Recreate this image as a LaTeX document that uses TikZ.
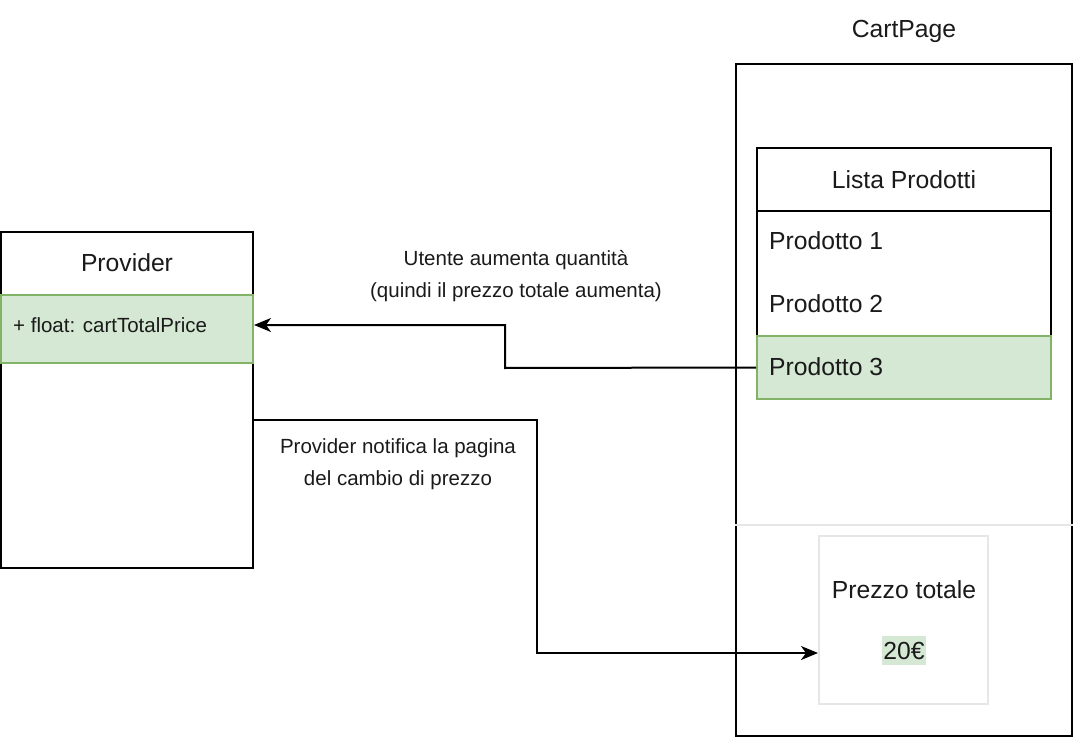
\documentclass[tikz,border=0pt]{standalone}
\usepackage{fontspec}
\setmainfont{Liberation Sans}
\usetikzlibrary{arrows.meta}
\definecolor{gfill}{HTML}{D5E8D4}
\definecolor{gdraw}{HTML}{82B366}
\definecolor{lgray}{HTML}{E6E6E6}
\definecolor{tcol}{HTML}{1A1A1A}
\tikzset{
  box/.style={draw=black, line width=2pt, inner sep=0pt, fill=white},
  rowbox/.style={inner sep=0pt},
  greenrow/.style={draw=gdraw, fill=gfill, line width=2pt, inner sep=0pt},
  bigtxt/.style={font=\fontsize{24.7}{29}\selectfont, text=tcol, inner sep=0pt},
  smalltxt/.style={font=\fontsize{20.5}{32}\selectfont, text=tcol, inner sep=0pt, align=center},
  arr/.style={line width=2pt, -{Stealth[length=17pt,width=14pt,inset=5pt]}},
}
\begin{document}
\begin{tikzpicture}[x=1pt,y=-1pt]
\useasboundingbox (0,0) rectangle (1076,738);
% Provider
\node[box, minimum width=252pt, minimum height=336pt] (prov) at (127,400) {};
\node[bigtxt] (provt) at (127,263) {Provider};
\node[greenrow, minimum width=252pt, minimum height=68pt] (attr) at (127,329) {};
\node[smalltxt, anchor=west] (attrt) at (13,325) {+ float: cartTotalPrice};
% CartPage
\node[bigtxt] (cartt) at (904,31) {CartPage};
\node[box, minimum width=336pt, minimum height=672pt] (cart) at (904,400) {};
\draw[lgray, line width=2pt] (cart.west |- 0,525) -- (cart.east |- 0,525);
% Lista Prodotti
\node[box, minimum width=294pt, minimum height=251pt] (lista) at (904,273.5) {};
\draw[line width=2pt] (lista.west |- 0,211) -- (lista.east |- 0,211);
\node[bigtxt] (listat) at (904,180) {Lista Prodotti};
\node[rowbox, minimum width=294pt, minimum height=62pt] (p1) at (904,242) {};
\node[bigtxt, anchor=west] (p1t) at (769,241) {Prodotto 1};
\node[rowbox, minimum width=294pt, minimum height=63pt] (p2) at (904,304.5) {};
\node[bigtxt, anchor=west] (p2t) at (769,304) {Prodotto 2};
\node[greenrow, minimum width=294pt, minimum height=63pt] (p3) at (904,367.5) {};
\node[bigtxt, anchor=west] (p3t) at (769,367) {Prodotto 3};
% Prezzo totale
\node[draw=lgray, line width=2pt, fill=white, minimum width=169pt, minimum height=168pt, inner sep=0pt] (price) at (903.5,620) {};
\node[bigtxt] (pricet) at (904,590) {Prezzo totale};
\node[bigtxt, fill=gfill, minimum width=44pt, minimum height=29pt] (val) at (904,650.5) {20€};
% connectors
\coordinate (b1) at (505,368);
\draw[arr] (p3.west) -- (b1) |- ([yshift=4pt]attr.east);
\coordinate (b2) at (537,420);
\coordinate (b3) at (537,653);
\draw[arr] ([yshift=-20pt]prov.east) -- (b2) -- (b3) -- ([yshift=-33pt]price.west);
% labels
\node[smalltxt] (l1) at (516,276) {Utente aumenta quantità\\(quindi il prezzo totale aumenta)};
\node[smalltxt] (l2) at (398,464) {Provider notifica la pagina\\del cambio di prezzo};
\end{tikzpicture}
\end{document}
